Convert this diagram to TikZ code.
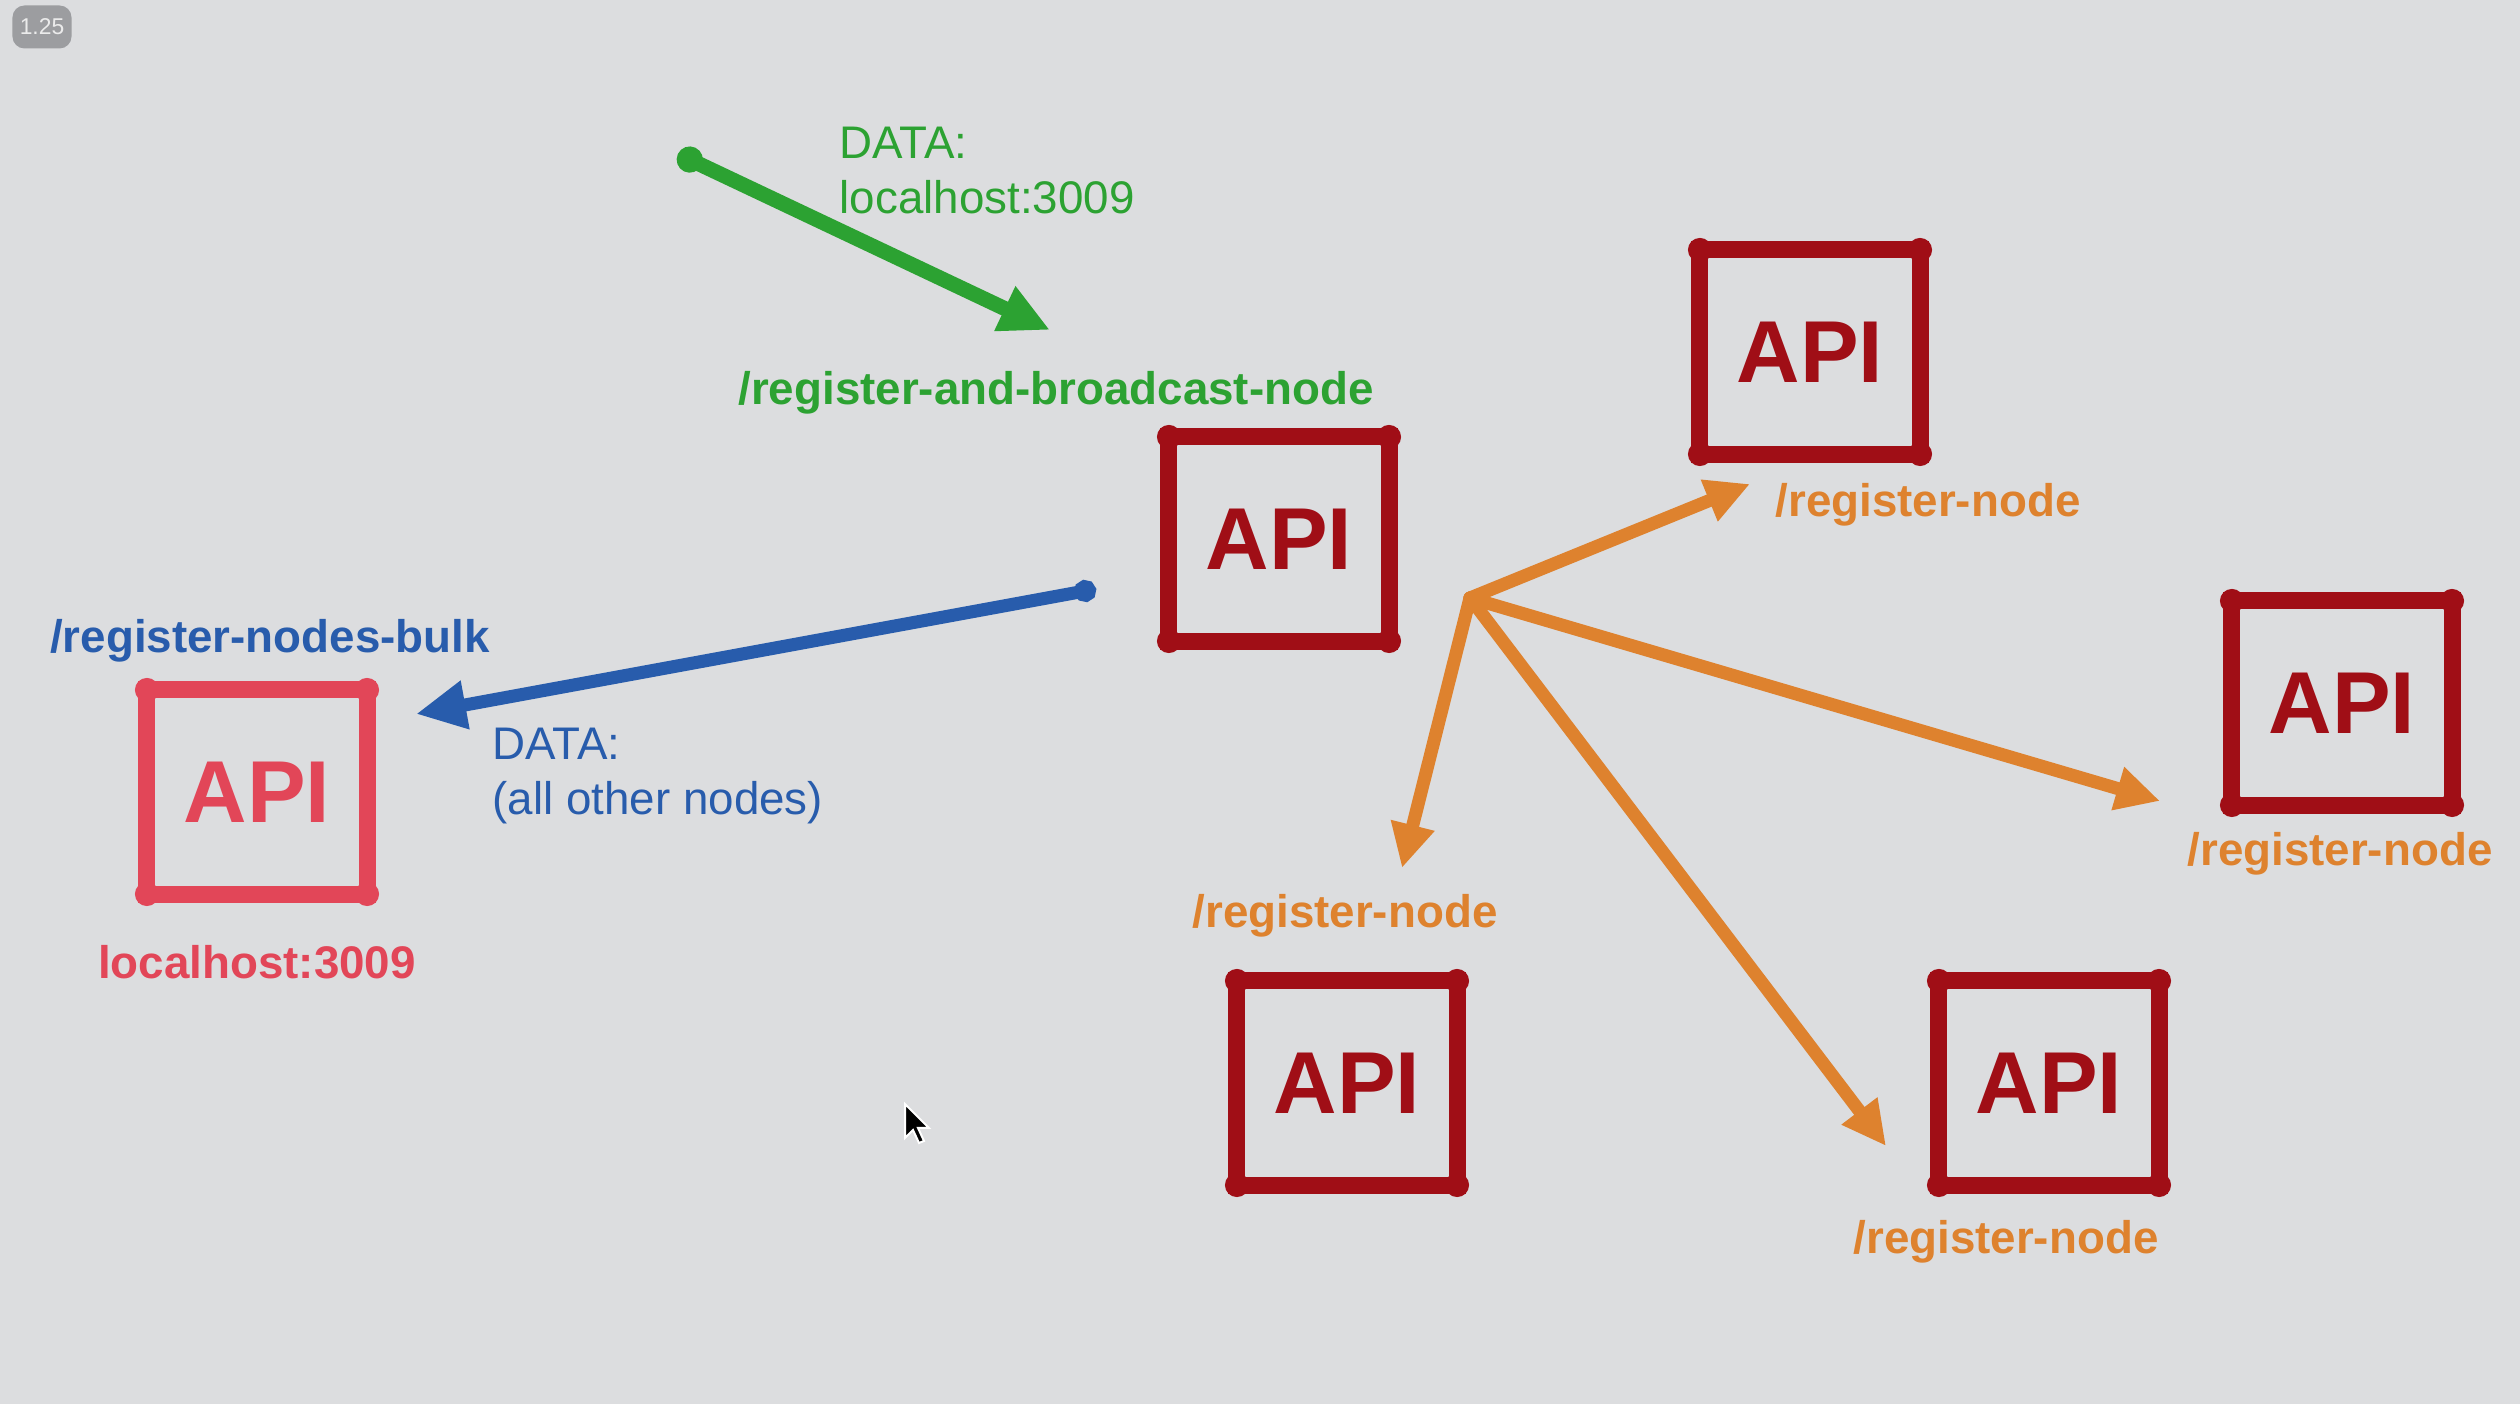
\documentclass[tikz,border=0pt]{standalone}
\usepackage{fontspec}
\setmainfont{Liberation Sans}
\usetikzlibrary{arrows.meta}

\definecolor{bgrey}{RGB}{220,221,223}
\definecolor{apired}{RGB}{160,14,22}
\definecolor{localpink}{RGB}{226,70,88}
\definecolor{bcgreen}{RGB}{44,162,50}
\definecolor{bulkblue}{RGB}{40,92,172}
\definecolor{regorange}{RGB}{222,130,46}
\definecolor{badgegrey}{RGB}{156,157,160}

\begin{document}
\begin{tikzpicture}[x=0.01cm, y=-0.01cm,
    apibox/.style={draw=#1, text=#1, line width=0.17cm, minimum width=2.2cm, minimum height=2.04cm,
        inner sep=0pt, outer sep=0pt, font=\fontsize{25}{30}\selectfont\bfseries},
    apibox/.default=apired,
    route/.style={text=#1, inner sep=0pt, font=\fontsize{13}{15.6}\selectfont\bfseries},
    datanote/.style={text=#1, inner sep=0pt, align=left, anchor=north west, font=\fontsize{13}{15.6}\selectfont},
    hand/.style={draw=#1, line width=0.13cm, line cap=round}]
            \fill[bgrey] (0, 0) rectangle (2520, 1404);
            \useasboundingbox (0, 0) rectangle (2520, 1404);
            % player badge
            \node[fill=badgegrey, rounded corners=0.12cm, minimum width=0.59cm, minimum height=0.43cm,
                inner sep=0pt, text=white!92!black, font=\fontsize{6.5}{8}\selectfont] (speed) at (42, 27) {1.25};
            % api boxes
            \node[apibox] (hub) at (1279, 539) {API};
            \node[apibox] (peerA) at (1810, 352) {API};
            \node[apibox] (peerB) at (2342, 703) {API};
            \node[apibox] (peerC) at (1347, 1083) {API};
            \node[apibox] (peerD) at (2049, 1083) {API};
            \node[apibox=localpink] (newnode) at (257, 792) {API};
            \foreach \b/\c in {hub/apired, peerA/apired, peerB/apired, peerC/apired, peerD/apired, newnode/localpink}
                \foreach \k in {north west, north east, south west, south east}
                    \fill[\c] (\b.\k) circle (0.12cm);
            % routes
            \node[route=bcgreen] (bcast) at (1056, 393) {/register-and-broadcast-node};
            \node[route=bulkblue] (bulk) at (270, 641) {/register-nodes-bulk};
            \node[route=localpink] (host) at (257, 962) {localhost:3009};
            \node[route=regorange] (regA) at (1928, 505) {/register-node};
            \node[route=regorange] (regB) at (2340, 854) {/register-node};
            \node[route=regorange] (regC) at (1345, 916) {/register-node};
            \node[route=regorange] (regD) at (2006, 1242) {/register-node};
            \node[datanote=bcgreen] (bcdata) at (839, 126) {DATA:\\localhost:3009};
            \node[datanote=bulkblue] (bulkdata) at (492, 727) {DATA:\\(all other nodes)};
            % arrows
            \coordinate (bcstart) at (678, 154);
            \coordinate (bctip) at (1050, 330);
            \draw[hand=bcgreen, line width=0.15cm, {Circle[length=0.26cm]}-{Triangle[length=0.5cm, width=0.46cm]}] (bcstart)--(bctip);
            \coordinate (bulkstart) at (1096, 589);
            \coordinate (bulktip) at (416, 714);
            \draw[hand=bulkblue, {Circle[length=0.22cm]}-{Triangle[length=0.5cm, width=0.46cm]}] (bulkstart)--(bulktip);
            \coordinate (fan) at (1470, 598);
            \coordinate (tipA) at (1750, 484);
            \coordinate (tipB) at (2160, 801);
            \coordinate (tipC) at (1402, 868);
            \coordinate (tipD) at (1886, 1146);
            \foreach \t in {tipA, tipB, tipC, tipD}
                \draw[hand=regorange, -{Triangle[length=0.44cm, width=0.42cm]}] (fan)--(\t);
            % cursor
            \fill[black, draw=white, line width=0.02cm] (905, 1104)--++(0, 34)--++(8, -8)--++(6, 13)--++(5, -2)--++(-6, -13)--++(11, 0)--cycle;
        \end{tikzpicture}
\end{document}
